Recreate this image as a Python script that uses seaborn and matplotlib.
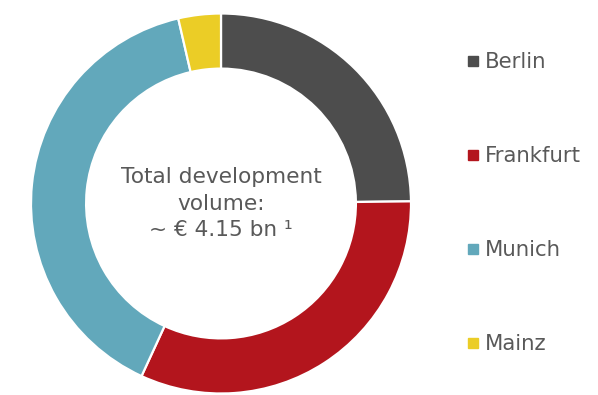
import matplotlib
matplotlib.use("Agg")
import matplotlib.pyplot as plt
from matplotlib.lines import Line2D
import seaborn as sns

# Development volume by city (EUR bn)
cities = ["Berlin", "Frankfurt", "Munich", "Mainz"]
volumes = [1.03, 1.33, 1.64, 0.15]
colors = ["#4d4d4d", "#b3151d", "#62a8bb", "#ebcd26"]
center_lines = ["Total development", "volume:", "~ € 4.15 bn ¹"]

sns.set_theme(style="white")
plt.rcParams["font.family"] = ["DejaVu Sans"]
text_color = "#595959"

fig = plt.figure(figsize=(5.98, 3.95), dpi=100)
ax = fig.add_axes([31 / 598, 1.5 / 395, 380 / 598, 380 / 395])

ax.pie(volumes, colors=colors, startangle=90, counterclock=False,
       radius=1.0,
       wedgeprops=dict(width=0.29, edgecolor="white", linewidth=1.6))
ax.set_xlim(-1, 1)
ax.set_ylim(-1, 1)
ax.set_aspect("equal")
ax.axis("off")

ax.text(0, 0.0, "\n".join(center_lines), ha="center", va="center",
        fontsize=15.6, color=text_color, linespacing=1.4)

handles = [Line2D([0], [0], marker="s", linestyle="none", markersize=7,
                  markerfacecolor=c, markeredgecolor=c) for c in colors]
fig.legend(handles, cities, loc="upper left", bbox_to_anchor=(468 / 598, 1 - 52 / 395),
           frameon=False, fontsize=15.3, labelcolor=text_color,
           handlelength=0.5, handletextpad=0.3, labelspacing=3.49,
           borderaxespad=0, borderpad=0)

fig.savefig("out.png", dpi=100)
